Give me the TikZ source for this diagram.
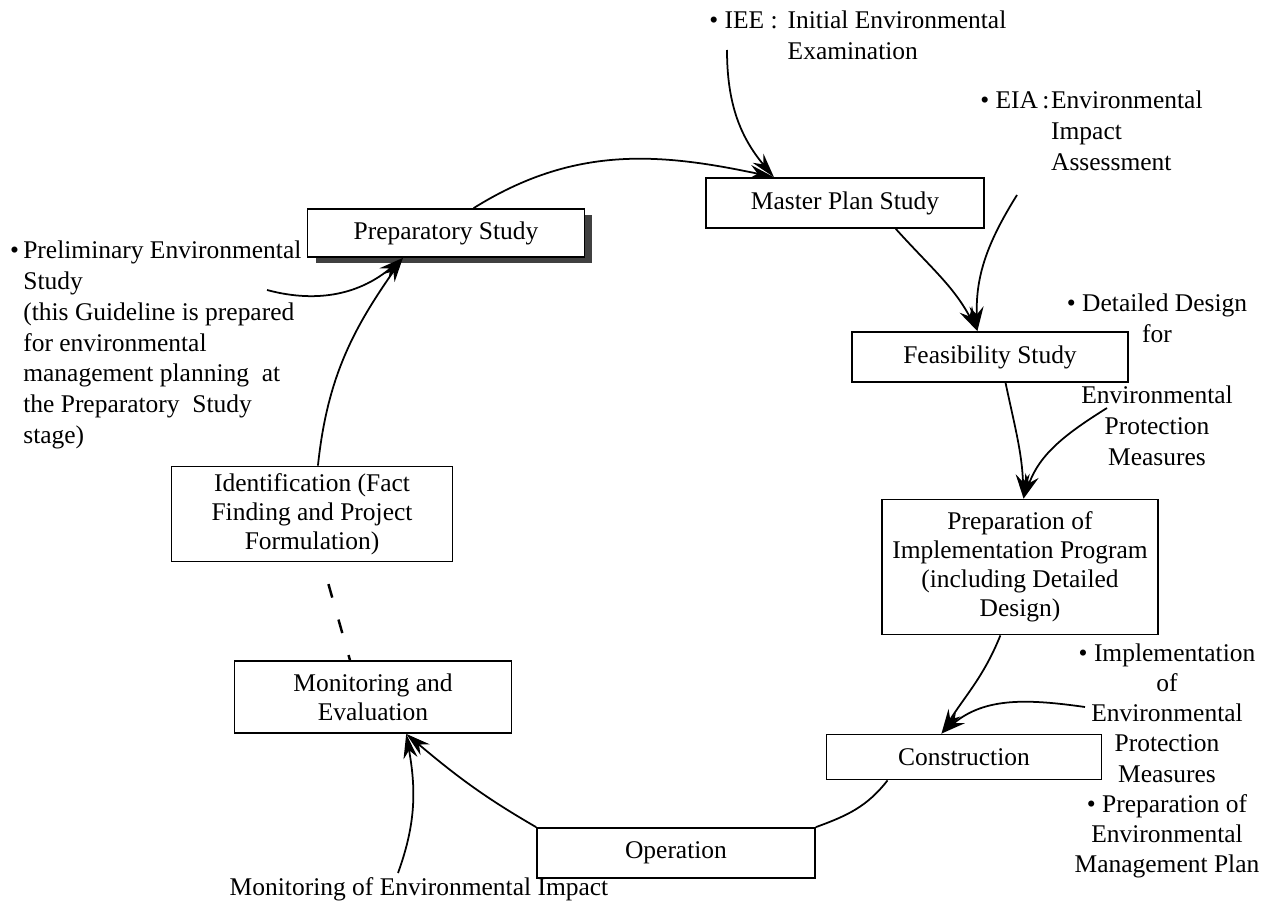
\documentclass[tikz,border=0pt]{standalone}
\usepackage{fontspec}
\setmainfont{Liberation Serif}
\usetikzlibrary{arrows.meta, shadows}

\tikzset{
    stage/.style={draw, fill=white, line width=1pt, align=center, inner sep=2pt,
        minimum width=5.54cm, font=\fontsize{14.5}{16.5}\selectfont},
    note/.style={align=center, inner sep=0pt, font=\fontsize{14.5}{17.5}\selectfont},
    flow/.style={line width=1pt, -{Stealth[length=14pt, width=8pt]}},
    link/.style={line width=1pt},
}

\begin{document}
\begin{tikzpicture}[x=0.02cm, y=-0.02cm]
            \useasboundingbox (0,0) rectangle (1275,909);
            % stages of the cycle
            \node[stage, minimum height=0.96cm, drop shadow={shadow xshift=0.16cm, shadow yshift=-0.12cm, fill=black!75, opacity=1}] (prep) at (446,233) {Preparatory Study};
            \node[stage, minimum width=5.56cm, minimum height=1cm] (master) at (845,203) {Master Plan Study};
            \node[stage, minimum width=5.52cm, minimum height=1cm] (feas) at (990,357) {Feasibility Study};
            \node[stage, minimum width=5.52cm, minimum height=2.7cm] (impl) at (1020,567) {Preparation of\\Implementation Program\\(including Detailed\\Design)};
            \node[stage, minimum width=5.5cm, minimum height=0.9cm] (constr) at (964,757) {Construction};
            \node[stage, minimum width=5.56cm, minimum height=1cm] (oper) at (676,853) {Operation};
            \node[stage, minimum height=1.44cm] (monit) at (373,697) {Monitoring and\\Evaluation};
            \node[stage, minimum width=5.62cm, minimum height=1.9cm] (ident) at (312,514) {Identification (Fact\\Finding and Project\\Formulation)};
            % environmental notes
            \node[note, anchor=north west] (iee) at (709,7) {\begin{tabular}{@{}l@{\hspace{0.2cm}}l@{}}\textbullet\ IEE : & Initial Environmental\\ & Examination\end{tabular}};
            \node[note, anchor=north west] (eia) at (980,87) {\begin{tabular}{@{}l@{\hspace{1pt}}l@{}}\textbullet\ EIA\,: & Environmental\\ & Impact\\ & Assessment\end{tabular}};
            \node[note] (dd) at (1157,318) {\textbullet\ Detailed Design\\for};
            \node[note] (ddenv) at (1157,426) {Environmental\\Protection\\Measures};
            \node[note, font=\fontsize{14.5}{17.2}\selectfont] (implm) at (1167,761) {\textbullet\ Implementation\\of\\Environmental\\Protection\\Measures\\\textbullet\ Preparation of\\Environmental\\Management Plan};
            \node[note, align=left, anchor=west] (prel) at (23,345) {\llap{\textbullet\,}Preliminary Environmental\\Study\\(this Guideline is prepared\\for environmental\\management planning~ at\\the Preparatory~ Study\\stage)};
            \node[note] (impact) at (419,889) {Monitoring of Environmental Impact};
            % free ends of the note arrows
            \coordinate (ieeS) at (727,50);
            \coordinate (eiaS) at (1017,195);
            \coordinate (envS) at (1107,408);
            \coordinate (implS) at (1085,707);
            \coordinate (prelS) at (267,290);
            \coordinate (impS) at (398,873);
            % cycle
            \draw[flow] (prep.42) to[out=32, in=168] (master.160);
            \draw[flow] (master.-27) to[out=-48, in=118] (feas.116);
            \draw[flow] (feas.-59) to[out=-78, in=92] (impl.87);
            \draw[flow] (impl.-106) to[out=-112, in=58] (constr.134);
            \draw[link] (constr.-163) to[out=-128, in=20] (oper.north east);
            \draw[flow] (oper.north west) to[out=150, in=-40] (monit.-48);
            \draw[line width=1.4pt, dash pattern=on 8pt off 13pt, dash phase=5pt] (monit.122) -- (ident.-78);
            \draw[flow] (ident.83) to[out=84, in=-125] (prep.-150);
            % notes
            \draw[flow] (ieeS) to[out=-90, in=130] (master.160);
            \draw[flow] (eiaS) to[out=-122, in=92] (feas.116);
            \draw[flow] (envS) to[out=-148, in=70] (impl.87);
            \draw[flow] (implS) to[out=172, in=40] (constr.134);
            \draw[flow] (impS) to[out=70, in=-80] (monit.-48);
            \draw[flow] (prelS) to[out=-15, in=-140] (prep.-150);
\end{tikzpicture}
\end{document}
